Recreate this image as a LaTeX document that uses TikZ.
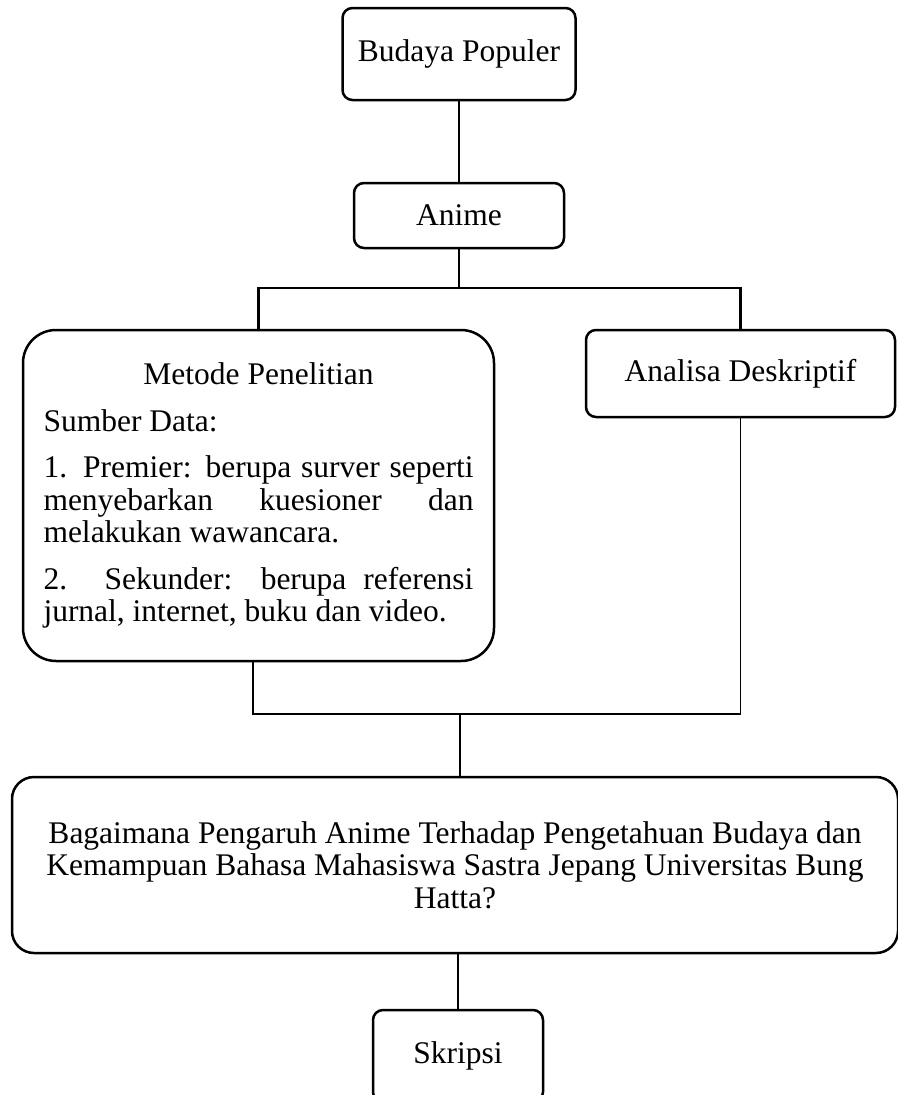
\documentclass[tikz,border=0pt]{standalone}
\usepackage{fontspec}
\setmainfont{Liberation Serif}
\usepackage{tikz}
\usetikzlibrary{positioning,calc}

\tikzset{
	kotak/.style={draw, line width=2.5pt, rounded corners=10pt, inner sep=0pt, align=center,
		font=\fontsize{31.5}{32.5}\selectfont},
	garis/.style={line width=2.5pt},
	garistipis/.style={line width=1.3pt}
}

\begin{document}
\begin{tikzpicture}[x=1pt, y=-1pt]
			
			\useasboundingbox (0,0) rectangle (897,1095);
			
			% kotak-kotak
			\node[kotak, minimum width=233pt, minimum height=92pt] (budaya) at (459,54) {Budaya Populer};
			\node[kotak, minimum width=210pt, minimum height=65pt] (anime) at (459,215.5) {Anime};
			\node[kotak, rounded corners=33pt, minimum width=471pt, minimum height=331pt] (metode) at (258.5,495.5) {%
				\begin{minipage}{430pt}
					\setlength{\parskip}{14pt}
					{\centering Metode Penelitian\par}
					Sumber Data:\par
					1. Premier: berupa surver seperti\linebreak menyebarkan kuesioner dan\linebreak melakukan wawancara.\par
					2. Sekunder: berupa referensi\linebreak jurnal, internet, buku dan video.
				\end{minipage}};
			\node[kotak, minimum width=309pt, minimum height=87pt] (analisa) at (740.5,373.5) {Analisa Deskriptif};
			\node[kotak, rounded corners=22pt, minimum width=886pt, minimum height=176pt] (tanya) at (455,865)
				{Bagaimana Pengaruh Anime Terhadap Pengetahuan Budaya dan\\ Kemampuan Bahasa Mahasiswa Sastra Jepang Universitas Bung\\ Hatta?};
			\node[kotak, minimum width=170pt, minimum height=92pt] (skripsi) at (458,1056) {Skripsi};
			
			\coordinate (cabang) at (459,288);
			\coordinate (gabung) at (460,714);
			
			% garis
			\draw[garis] (budaya) -- (anime);
			\draw[garis] (anime) -- (cabang);
			\draw[garis] (metode.north) |- (cabang) -| (analisa.north);
			\draw[garistipis] ([xshift=-5.5pt]metode.south) |- (gabung) -| (analisa.south);
			\draw[garistipis] (gabung) -- (gabung |- tanya.north);
			\draw[garis] (tanya.south -| skripsi.north) -- (skripsi.north);
			
		\end{tikzpicture}
\end{document}
